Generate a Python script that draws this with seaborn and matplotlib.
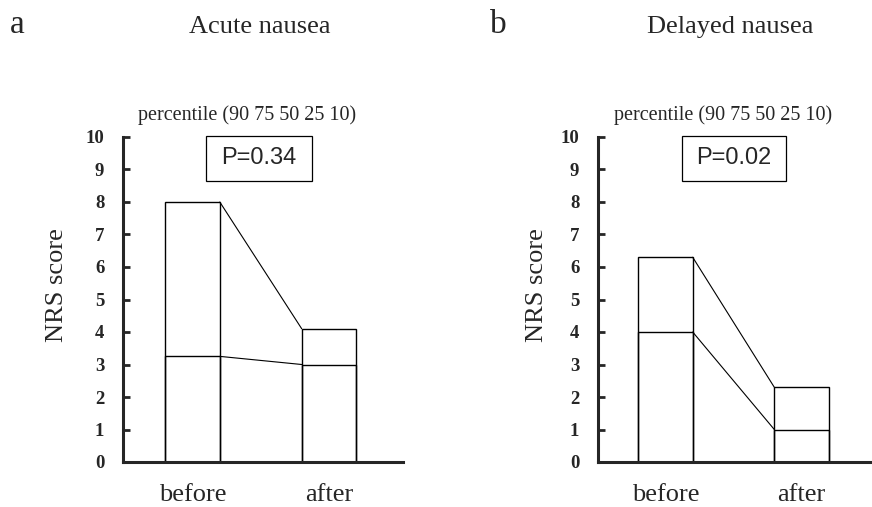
import pandas as pd
import seaborn as sns
from matplotlib import pyplot as plt
from matplotlib.patches import Rectangle

# values (90th percentile = box top, 50th = inner line)
groups = ['before', 'after']
acute_top = [8.0, 4.1]
acute_median = [3.25, 3.0]
delayed_top = [6.3, 2.3]
delayed_median = [4.0, 1.0]
yticks = list(range(0, 11))

panels = [
    {'letter': 'a', 'title': 'Acute nausea', 'p': 'P=0.34',
     'top': acute_top, 'median': acute_median},
    {'letter': 'b', 'title': 'Delayed nausea', 'p': 'P=0.02',
     'top': delayed_top, 'median': delayed_median},
]

sns.set_style('ticks')
plt.rcParams['font.family'] = ['Liberation Serif', 'DejaVu Serif']

W, H = 872, 507
fig = plt.figure(figsize=(W / 100, H / 100), dpi=100)


def fx(px):
    return px / W


def fy(py):
    return 1 - py / H


# pixel layout of each panel
layout = [
    {'left': 123, 'right': 403, 'c0': 192.5, 'spacing': 136.5, 'letter_x': 10,
     'title_x': 260, 'perc_x': 247, 'ylab_x': 57, 'pbox': (206, 312)},
    {'left': 598, 'right': 872, 'c0': 665.5, 'spacing': 136, 'letter_x': 490,
     'title_x': 730, 'perc_x': 723, 'ylab_x': 537, 'pbox': (682, 786)},
]
y_bottom, y_top = 462, 137
bw = 0.4

for panel, lay in zip(panels, layout):
    ax = fig.add_axes([fx(lay['left']), fy(y_bottom),
                       fx(lay['right'] - lay['left']), (y_bottom - y_top) / H])
    df = pd.DataFrame({'group': groups, 'top': panel['top'], 'median': panel['median']})

    sns.barplot(data=df, x='group', y='top', ax=ax, width=bw,
                facecolor='none', edgecolor='black', linewidth=1.0)
    sns.barplot(data=df, x='group', y='median', ax=ax, width=bw,
                facecolor='none', edgecolor='black', linewidth=1.0)

    # connecting lines between boxes
    ax.plot([bw / 2, 1 - bw / 2], panel['top'], color='black', lw=0.8)
    ax.plot([bw / 2, 1 - bw / 2], panel['median'], color='black', lw=0.8)

    x_lo = (lay['left'] - lay['c0']) / lay['spacing']
    x_hi = (lay['right'] - lay['c0']) / lay['spacing']
    ax.set_xlim(x_lo, x_hi)
    ax.set_ylim(0, 10)
    ax.set_yticks(yticks)
    ax.set_xlabel('')
    ax.set_ylabel('')

    for s in ['top', 'right']:
        ax.spines[s].set_visible(False)
    for s in ['left', 'bottom']:
        ax.spines[s].set_linewidth(2.2)

    ax.tick_params(axis='y', direction='in', length=5, width=2, pad=13.5,
                   labelsize=13.5)
    for lbl in ax.get_yticklabels():
        lbl.set_fontweight('bold')
    ax.tick_params(axis='x', length=0, pad=15.5, labelsize=19)

    # texts
    fig.text(fx(lay['letter_x']), fy(33), panel['letter'], fontsize=24, va='baseline')
    fig.text(fx(lay['title_x']), fy(33), panel['title'], fontsize=19,
             ha='center', va='baseline')
    fig.text(fx(lay['perc_x']), fy(120), 'percentile (90 75 50 25 10)', fontsize=14.5,
             ha='center', va='baseline')
    fig.text(fx(lay['ylab_x']), fy(285), 'NRS score', fontsize=19, rotation=90,
             ha='center', va='center')

    x0, x1 = lay['pbox']
    fig.patches.append(Rectangle((fx(x0), fy(181)), fx(x1 - x0), (181 - 136) / H,
                                 transform=fig.transFigure, fill=False,
                                 edgecolor='black', lw=0.9))
    fig.text(fx((x0 + x1) / 2), fy(158.5), panel['p'], fontsize=17,
             family=['Liberation Sans', 'DejaVu Sans'], ha='center', va='center')

fig.savefig('out.png', dpi=100, facecolor='white')
